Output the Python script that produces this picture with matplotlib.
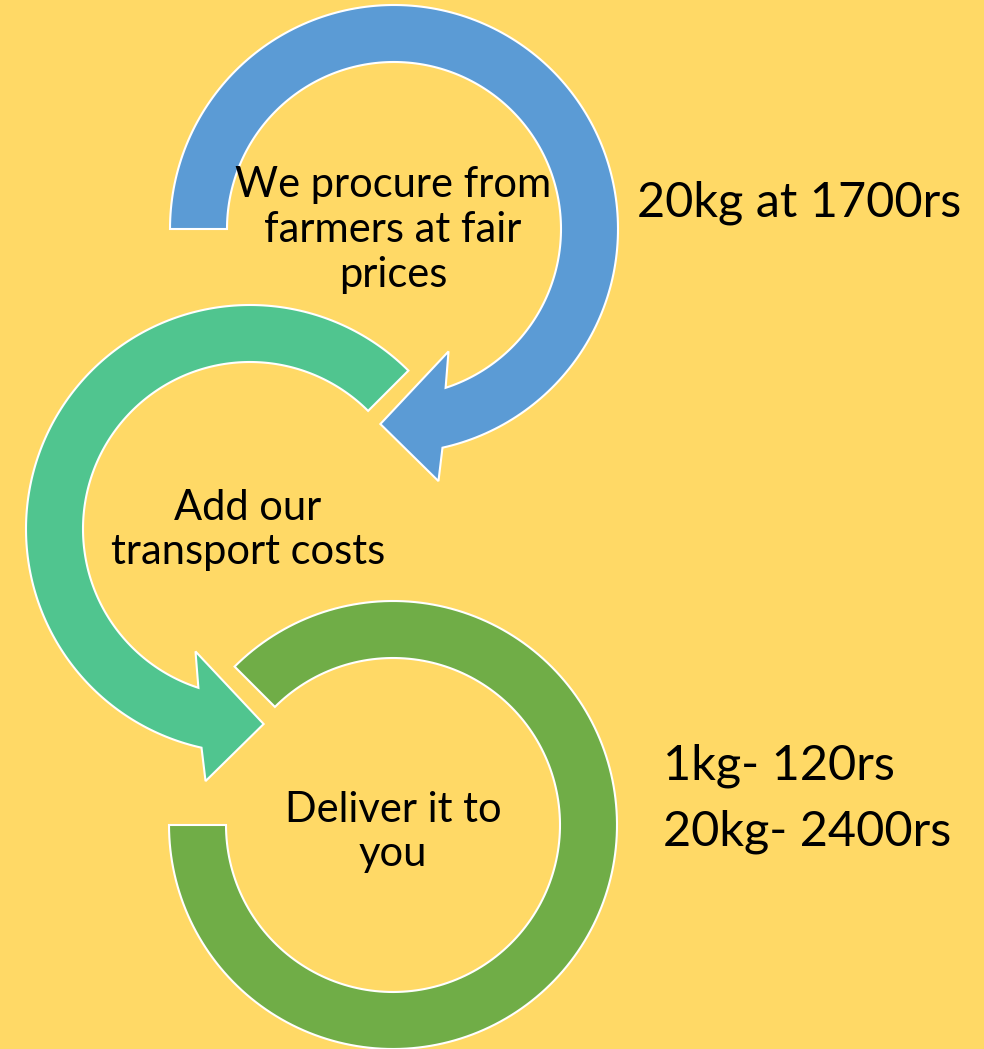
import numpy as np
import matplotlib.pyplot as plt
from matplotlib.patches import Polygon

# step texts, one per ring, and the price notes on the right
steps = ["We procure from\nfarmers at fair\nprices",
         "Add our\ntransport costs",
         "Deliver it to\nyou"]
buy_note = "20kg at 1700rs"
sell_notes = ["1kg- 120rs", "20kg- 2400rs"]

bg = "#FFD966"
ring_colors = ["#5B9BD5", "#50C58F", "#70AD47"]

# everything is drawn in pixel coords (y down), angles clockwise from +x
R_OUT, R_IN = 224, 167


def pt(c, ang, rad):
    a = np.radians(ang)
    return [c[0] + rad * np.cos(a), c[1] + rad * np.sin(a)]


def arc(c, rad, a0, a1, n=200):
    return [pt(c, a, rad) for a in np.linspace(a0, a1, n)]


def ring(c, a0, out_end, in_end, head=None):
    # outer edge from start to shaft end, arrow head, inner edge back
    verts = arc(c, R_OUT, a0, out_end)
    if head:
        verts += [pt(c, a, r) for a, r in head]
    verts += arc(c, R_IN, in_end, a0)
    return verts


fig = plt.figure(figsize=(9.84, 10.49), dpi=100)
fig.patch.set_facecolor(bg)
ax = fig.add_axes([0, 0, 1, 1])
ax.set_xlim(0, 984)
ax.set_ylim(1049, 0)
ax.axis("off")

mid = (R_OUT + R_IN) / 2
shapes = [
    ring((394, 229), 180, 437.5, 432,
         [(440, 256), (454, mid), (426, 134)]),
    ring((250, 529), -45, -257.5, -252,
         [(-260, 256), (-274, mid), (-246, 134)]),
    ring((393, 825), -135, 180, 180),
]
for verts, col in zip(shapes, ring_colors):
    ax.add_patch(Polygon(verts, closed=True, facecolor=col,
                         edgecolor="white", linewidth=1.5, zorder=1))

font = "Lato"
ax.text(393, 230, steps[0], ha="center", va="center", fontsize=30,
        family=font, linespacing=1.22, zorder=3)
ax.text(248, 530, steps[1], ha="center", va="center", fontsize=30,
        family=font, linespacing=1.22, zorder=3)
ax.text(393, 832, steps[2], ha="center", va="center", fontsize=30,
        family=font, linespacing=1.22, zorder=3)

ax.text(637, 203, buy_note, ha="left", va="center", fontsize=35,
        family=font, zorder=3)
for y, note in zip([766, 832], sell_notes):
    ax.text(663, y, note, ha="left", va="center", fontsize=35,
            family=font, zorder=3)

fig.savefig("out.png", dpi=100, facecolor=bg)
